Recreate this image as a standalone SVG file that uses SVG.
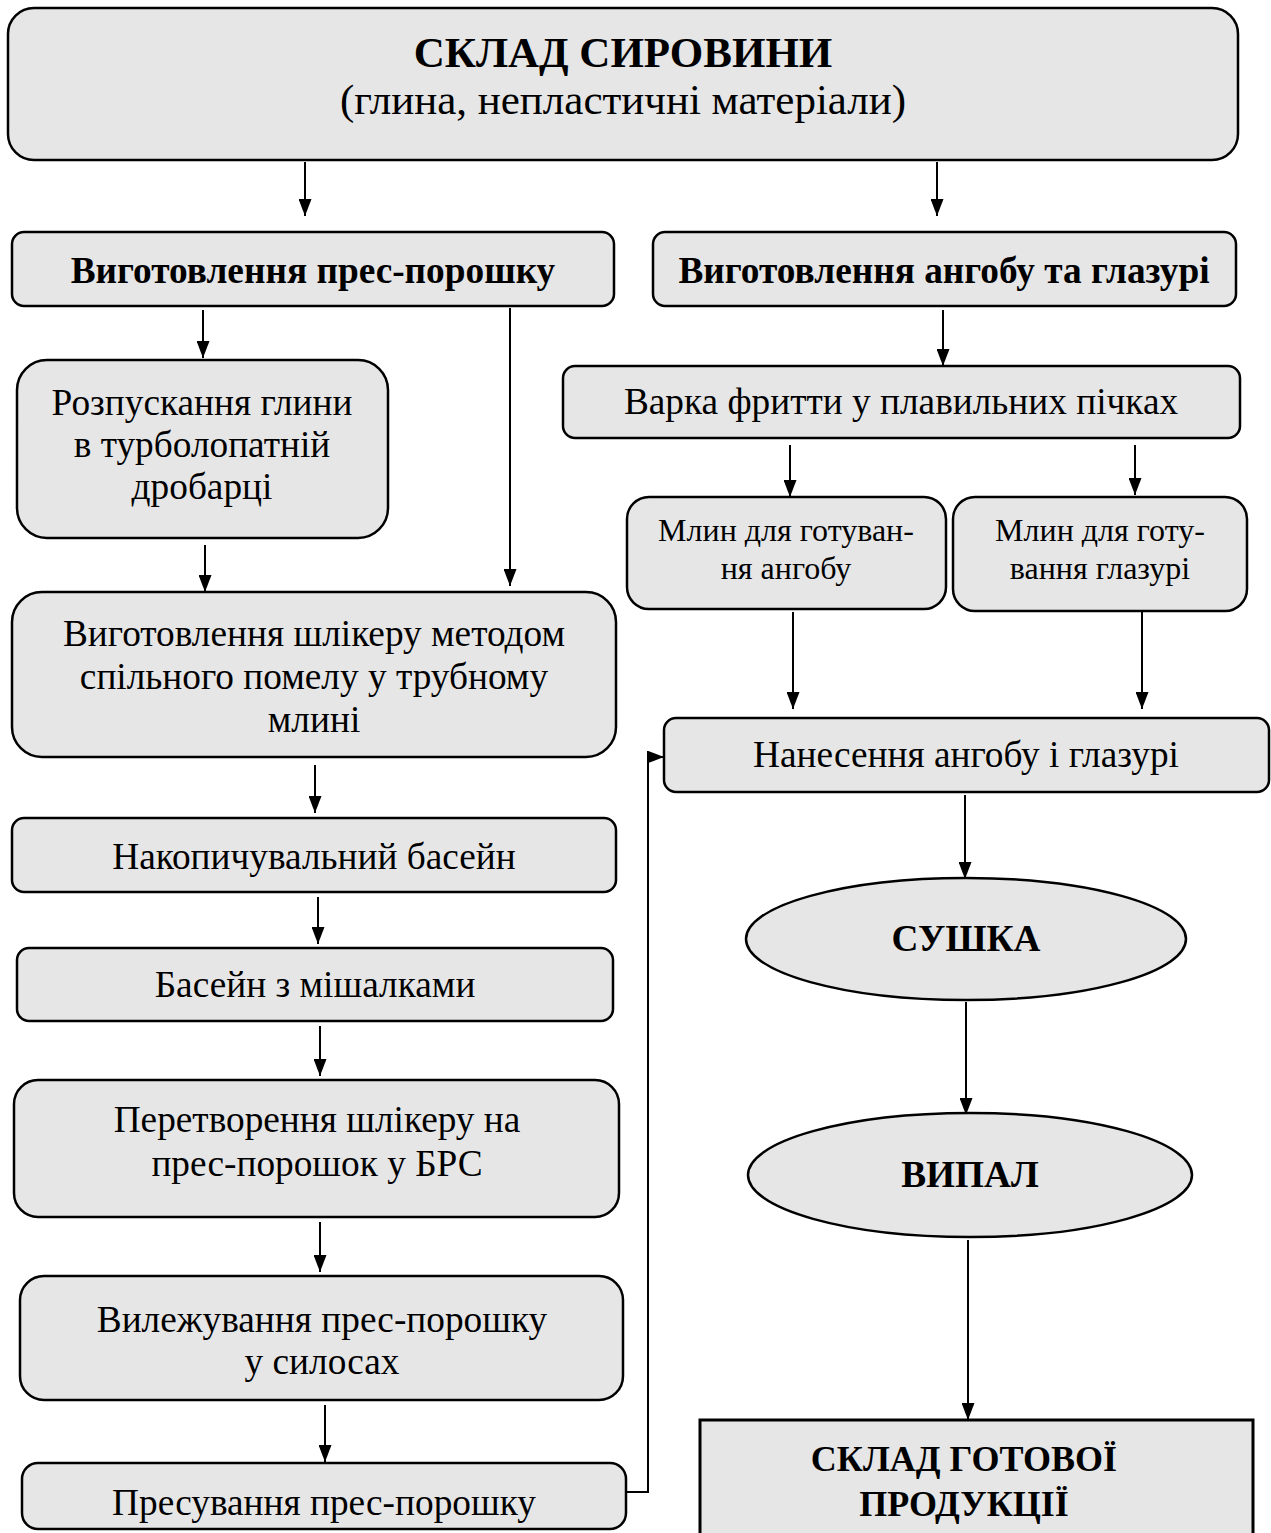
<svg xmlns="http://www.w3.org/2000/svg" width="1271" height="1533" viewBox="0 0 1271 1533">
<defs>
<marker id="ah" markerWidth="17" markerHeight="13" refX="17" refY="6.5" orient="auto" markerUnits="userSpaceOnUse" viewBox="0 0 17 13">
<path d="M0,0 L17,6.5 L0,13 Z" fill="#000"/>
</marker>
<style>
.n{fill:#e6e6e6;stroke:#000;stroke-width:2.5}
.t{font-family:"Liberation Serif","Times New Roman",serif;font-size:37.3px;fill:#000;text-anchor:middle}
.b{font-weight:bold}
.s{font-size:32px}
.h{font-size:43px}
.c{fill:none;stroke:#000;stroke-width:2}
</style>
</defs>
<rect width="1271" height="1533" fill="#fff"/>
<g id="connectors">
<line class="c" x1="305" y1="162" x2="305" y2="216" marker-end="url(#ah)"/>
<line class="c" x1="937" y1="162" x2="937" y2="216" marker-end="url(#ah)"/>
<line class="c" x1="203" y1="310" x2="203" y2="358" marker-end="url(#ah)"/>
<line class="c" x1="510" y1="308" x2="510" y2="586" marker-end="url(#ah)"/>
<line class="c" x1="943" y1="310" x2="943" y2="366" marker-end="url(#ah)"/>
<line class="c" x1="790" y1="445" x2="790" y2="497" marker-end="url(#ah)"/>
<line class="c" x1="1135" y1="445" x2="1135" y2="495" marker-end="url(#ah)"/>
<line class="c" x1="205" y1="545" x2="205" y2="592" marker-end="url(#ah)"/>
<line class="c" x1="793" y1="612" x2="793" y2="709" marker-end="url(#ah)"/>
<line class="c" x1="1142" y1="612" x2="1142" y2="709" marker-end="url(#ah)"/>
<line class="c" x1="965" y1="795" x2="965" y2="879" marker-end="url(#ah)"/>
<line class="c" x1="966" y1="1002" x2="966" y2="1115" marker-end="url(#ah)"/>
<line class="c" x1="968" y1="1240" x2="968" y2="1420" marker-end="url(#ah)"/>
<line class="c" x1="315" y1="765" x2="315" y2="813" marker-end="url(#ah)"/>
<line class="c" x1="318" y1="897" x2="318" y2="944" marker-end="url(#ah)"/>
<line class="c" x1="320" y1="1026" x2="320" y2="1076" marker-end="url(#ah)"/>
<line class="c" x1="320" y1="1222" x2="320" y2="1272" marker-end="url(#ah)"/>
<line class="c" x1="325" y1="1405" x2="325" y2="1462" marker-end="url(#ah)"/>
<polyline class="c" points="627,1492 648,1492 648,757 664,757" marker-end="url(#ah)"/>
</g>
<g id="sklad-syrovyny">
<rect class="n" x="8" y="8" width="1230" height="152" rx="26"/>
<text class="t b h" x="623" y="67">СКЛАД СИРОВИНИ</text>
<text class="t h" x="623" y="114">(глина, непластичні матеріали)</text>
</g>
<g id="press-powder">
<rect class="n" x="12" y="232" width="602" height="74" rx="12"/>
<text class="t b" x="313" y="283">Виготовлення прес-порошку</text>
</g>
<g id="engobe-glaze">
<rect class="n" x="653" y="232" width="583" height="74" rx="12"/>
<text class="t b" x="944" y="283">Виготовлення ангобу та глазурі</text>
</g>
<g id="rozpuskannia">
<rect class="n" x="17" y="360" width="371" height="178" rx="30"/>
<text class="t" x="202" y="415">Розпускання глини</text>
<text class="t" x="202" y="457">в турболопатній</text>
<text class="t" x="202" y="499">дробарці</text>
</g>
<g id="varka">
<rect class="n" x="563" y="366" width="677" height="72" rx="12"/>
<text class="t" x="901" y="414">Варка фритти у плавильних пічках</text>
</g>
<g id="mlyn-angob">
<rect class="n" x="627" y="497" width="319" height="112" rx="22"/>
<text class="t s" x="786" y="541">Млин для готуван-</text>
<text class="t s" x="786" y="579">ня ангобу</text>
</g>
<g id="mlyn-glaze">
<rect class="n" x="953" y="497" width="294" height="114" rx="22"/>
<text class="t s" x="1100" y="541">Млин для готу-</text>
<text class="t s" x="1100" y="579">вання глазурі</text>
</g>
<g id="shliker">
<rect class="n" x="12" y="592" width="604" height="165" rx="30"/>
<text class="t" x="314" y="646">Виготовлення шлікеру методом</text>
<text class="t" x="314" y="689">спільного помелу у трубному</text>
<text class="t" x="314" y="732">млині</text>
</g>
<g id="nanesennia">
<rect class="n" x="664" y="718" width="605" height="74" rx="12"/>
<text class="t" x="966" y="767">Нанесення ангобу і глазурі</text>
</g>
<g id="sushka">
<ellipse class="n" cx="966" cy="939" rx="220" ry="61"/>
<text class="t b" x="966" y="951">СУШКА</text>
</g>
<g id="vypal">
<ellipse class="n" cx="970" cy="1175" rx="222" ry="62"/>
<text class="t b" x="970" y="1187">ВИПАЛ</text>
</g>
<g id="sklad-gotovoi">
<rect class="n" x="700" y="1420" width="553" height="125" style="stroke-width:3"/>
<text class="t b" x="964" y="1471" style="font-size:36px">СКЛАД ГОТОВОЇ</text>
<text class="t b" x="964" y="1516" style="font-size:36px">ПРОДУКЦІЇ</text>
</g>
<g id="nakopychuvalnyi">
<rect class="n" x="12" y="818" width="604" height="74" rx="12"/>
<text class="t" x="314" y="869">Накопичувальний басейн</text>
</g>
<g id="basein-mishalky">
<rect class="n" x="17" y="948" width="596" height="73" rx="12"/>
<text class="t" x="315" y="997">Басейн з мішалками</text>
</g>
<g id="peretvorennia">
<rect class="n" x="14" y="1080" width="605" height="137" rx="24"/>
<text class="t" x="317" y="1132">Перетворення шлікеру на</text>
<text class="t" x="317" y="1176">прес-порошок у БРС</text>
</g>
<g id="vylezhuvannia">
<rect class="n" x="20" y="1276" width="603" height="124" rx="24"/>
<text class="t" x="322" y="1332">Вилежування прес-порошку</text>
<text class="t" x="322" y="1374">у силосах</text>
</g>
<g id="presuvannia">
<rect class="n" x="22" y="1463" width="604" height="66" rx="16"/>
<text class="t" x="324" y="1515">Пресування прес-порошку</text>
</g>
</svg>
